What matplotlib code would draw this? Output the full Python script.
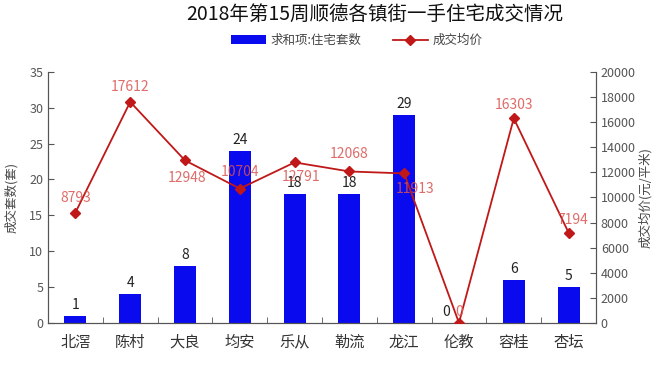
import matplotlib.pyplot as plt
import numpy as np

plt.rcParams['font.family'] = ['Noto Sans CJK SC', 'DejaVu Sans']

towns = ['北滘', '陈村', '大良', '均安', '乐从', '勒流', '龙江', '伦教', '容桂', '杏坛']
units = [1, 4, 8, 24, 18, 18, 29, 0, 6, 5]
price = [8793, 17612, 12948, 10704, 12791, 12068, 11913, 0, 16303, 7194]
# where each price label sits relative to its point, in pixels (dx, dy)
price_off = [(0, 15), (0, 15), (2, -18), (0, 17), (6, -15), (0, 17), (11, -16), (0, 11), (0, 13), (4, 13)]

fig = plt.figure(figsize=(6.67, 3.69), dpi=100)
ax = fig.add_axes([0.072, 0.125, 0.8215, 0.68])
ax2 = ax.twinx()

x = np.arange(len(towns))
ax.bar(x, units, width=0.4, color='#0a0aee', label='求和项:住宅套数', zorder=2)
for xi, v in zip(x, units):
    dx = -13 if v == 0 else 0
    ax.annotate(str(v), (xi, v), xytext=(dx, 4), textcoords='offset pixels',
                ha='center', va='bottom', fontsize=10, color='#222222')

ax2.plot(x, price, color='#c01818', marker='D', markersize=5, lw=1.3, label='成交均价', zorder=3)
for xi, v, (dx, dy) in zip(x, price, price_off):
    ax2.annotate(str(v), (xi, v), xytext=(dx, dy), textcoords='offset pixels',
                 ha='center', va='center', fontsize=10, color='#d9534f', alpha=0.85)

ax.set_xlim(-0.5, len(towns) - 0.5)
ax.set_ylim(0, 35)
ax.set_yticks(range(0, 36, 5))
ax2.set_ylim(0, 20000)
ax2.set_yticks(range(0, 20001, 2000))

ax.set_xticks(x)
ax.set_xticklabels(towns, fontsize=11, color='#333333')
ax.set_xticks(np.arange(-0.5, len(towns), 1), minor=True)
ax.tick_params(axis='x', which='major', length=0, pad=8)
ax.tick_params(axis='x', which='minor', direction='in', length=4, color='#555555')
ax.tick_params(axis='y', direction='in', length=4, labelsize=9, labelcolor='#555555', color='#555555')
ax2.tick_params(axis='y', direction='in', length=4, labelsize=9, labelcolor='#555555', color='#555555')

for a in (ax, ax2):
    a.spines['top'].set_visible(False)
    for s in ('left', 'right', 'bottom'):
        a.spines[s].set_color('#555555')

ax.set_ylabel('成交套数(套)', fontsize=9, color='#444444', labelpad=8)
ax2.set_ylabel('成交均价(元/平米)', fontsize=9, color='#444444', labelpad=2)

fig.suptitle('2018年第15周顺德各镇街一手住宅成交情况', x=0.562, y=0.99, fontsize=14, color='#111111')

h1, l1 = ax.get_legend_handles_labels()
h2, l2 = ax2.get_legend_handles_labels()
fig.legend(h1 + h2, l1 + l2, loc='center', bbox_to_anchor=(0.535, 0.89), ncol=2,
           frameon=False, fontsize=9, handlelength=2.8, handletextpad=0.4,
           columnspacing=2.5, labelcolor='#444444')

fig.savefig('out.png', dpi=100)
